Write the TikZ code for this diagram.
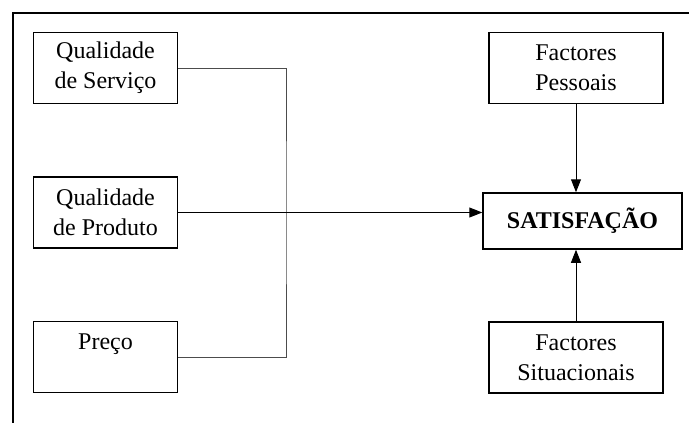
\documentclass[tikz,border=0pt]{standalone}
\usepackage{fontspec}
\setmainfont{Liberation Serif}
\usetikzlibrary{arrows.meta}

\tikzstyle{block} = [draw, line width=1.5pt, rectangle, align=center,
    minimum height=71pt, minimum width=144pt, inner sep=0pt,
    font=\fontsize{24}{30}\selectfont]
\tikzstyle{factor} = [block, minimum width=174pt]
\tikzstyle{target} = [block, minimum height=56pt, minimum width=199pt,
    font=\fontsize{24}{30}\selectfont\bfseries]
\tikzstyle{line} = [draw, line width=1pt, black!70]
\tikzstyle{link} = [draw, line width=1pt, -{Triangle[length=13pt,width=10pt]}]

\begin{document}
\begin{tikzpicture}[x=1pt, y=-1pt, node distance=144.5pt]
    \useasboundingbox (0,0) rectangle (689,423);
    \draw [line width=1.5pt] (689,13) -- (13,13) -- (13,423);
    \node [block] (servico) at (105.5,68) {Qualidade\\de Serviço};
    \node [block, below of=servico] (produto) {Qualidade\\de Produto};
    \node [block, below of=produto] (preco) {Preço\\\mbox{}};
    \node [target] (satisf) at (582.5,221) {SATISFAÇÃO};
    \node [factor] (pessoais) at (576,68) {Factores\\Pessoais};
    \node [factor, below of=pessoais, node distance=289.5pt] (situac) {Factores\\Situacionais};
    \coordinate (bus) at (286,212.5);
    \draw [line] (servico.east) -| (bus) |- (preco.east);
    \draw [link] (produto.east) -- (produto.east -| satisf.west);
    \draw [link] (pessoais.south) -- (pessoais.south |- satisf.north);
    \draw [link] (situac.north) -- (situac.north |- satisf.south);
\end{tikzpicture}
\end{document}
